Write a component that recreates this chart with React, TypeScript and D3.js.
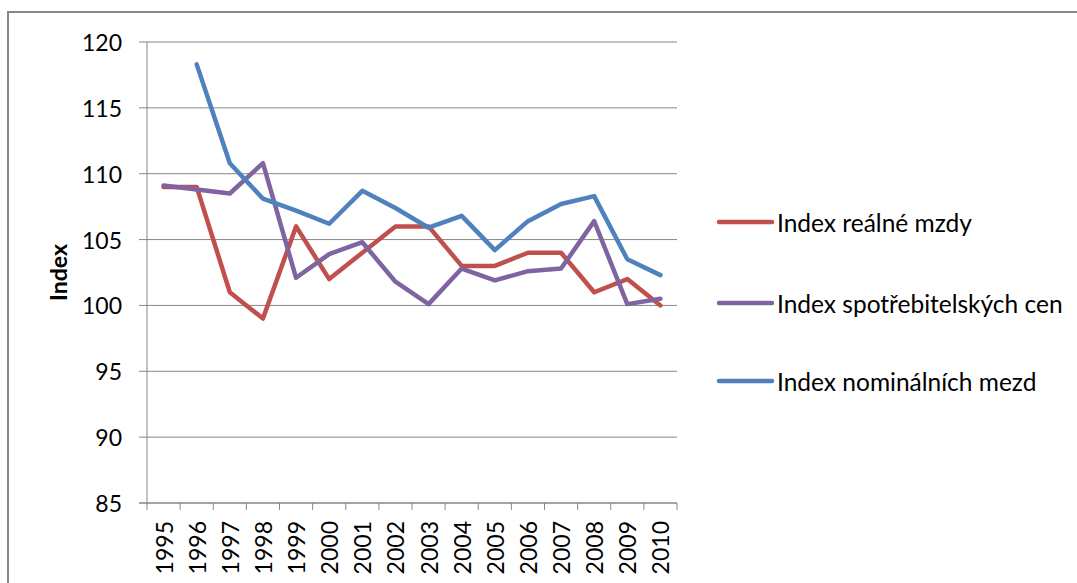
import React from "react";
import * as d3 from "d3";

const years = ["1995","1996","1997","1998","1999","2000","2001","2002","2003","2004","2005","2006","2007","2008","2009","2010"];
const realWages: (number | null)[] = [109, 109, 101, 99, 106, 102, 104, 106, 106, 103, 103, 104, 104, 101, 102, 100];
const cpi: (number | null)[] = [109.1, 108.8, 108.5, 110.8, 102.1, 103.9, 104.8, 101.8, 100.1, 102.8, 101.9, 102.6, 102.8, 106.4, 100.1, 100.5];
const nominalWages: (number | null)[] = [null, 118.3, 110.8, 108.1, 107.2, 106.2, 108.7, 107.4, 105.9, 106.8, 104.2, 106.4, 107.7, 108.3, 103.5, 102.3];
const yTicks = [85, 90, 95, 100, 105, 110, 115, 120];
const seriesNames = ["Index reálné mzdy", "Index spotřebitelských cen", "Index nominálních mezd"];
const seriesColors = ["#C0504D", "#8064A2", "#4F81BD"];
const yTitle = "Index";

const FONT = "Lato, 'Open Sans', sans-serif";

export default function App() {
  const W = 1077, H = 583;
  const left = 147, right = 677, top = 42, bottom = 503;
  const x = d3.scaleBand<string>().domain(years).range([left, right]).padding(0);
  const y = d3.scaleLinear().domain([85, 120]).range([bottom, top]);
  const line = d3.line<number | null>()
    .defined((d) => d !== null)
    .x((_, i) => (x(years[i]) as number) + x.bandwidth() / 2)
    .y((d) => y(d as number));
  const series = [realWages, cpi, nominalWages];
  const legendY = [222, 303, 381];
  const grid = "#868686";

  return (
    <svg width={W} height={H} style={{ position: "fixed", left: 0, top: 0, background: "#fff" }} fontFamily={FONT}>
      <rect x={0} y={0} width={W} height={H} fill="#fff" />
      <rect x={8} y={12} width={W + 20} height={H + 20} fill="none" stroke="#868686" strokeWidth={2} />
      {yTicks.map((t) => (
        <g key={t}>
          <line x1={left - 8} x2={right} y1={y(t)} y2={y(t)} stroke={grid} strokeWidth={t === 85 ? 1.5 : 1} />
          <text x={122} y={y(t)} textAnchor="end" dominantBaseline="central" fontSize={23} fill="#000">{t}</text>
        </g>
      ))}
      <line x1={left} x2={left} y1={top} y2={bottom} stroke={grid} strokeWidth={1} />
      {years.map((yr) => (
        <line key={"t" + yr} x1={x(yr) as number} x2={x(yr) as number} y1={bottom} y2={bottom + 7} stroke={grid} strokeWidth={1} />
      ))}
      <line x1={right} x2={right} y1={bottom} y2={bottom + 7} stroke={grid} strokeWidth={1} />
      {years.map((yr) => {
        const cx = (x(yr) as number) + x.bandwidth() / 2;
        return (
          <text key={yr} transform={`translate(${cx},${521}) rotate(-90)`} textAnchor="end" dominantBaseline="central" fontSize={23} fill="#000">{yr}</text>
        );
      })}
      <text transform={`translate(58,${(top + bottom) / 2}) rotate(-90)`} textAnchor="middle" dominantBaseline="central" fontSize={23} fontWeight="bold" fill="#000">{yTitle}</text>
      {series.map((s, k) => (
        <path key={k} d={line(s) || ""} fill="none" stroke={seriesColors[k]} strokeWidth={4.5} strokeLinejoin="round" strokeLinecap="round" />
      ))}
      {seriesNames.map((n, k) => (
        <g key={n}>
          <line x1={719} x2={772} y1={legendY[k]} y2={legendY[k]} stroke={seriesColors[k]} strokeWidth={4.5} strokeLinecap="round" />
          <text x={777} y={legendY[k]} dominantBaseline="central" fontSize={24.5} fill="#000">{n}</text>
        </g>
      ))}
    </svg>
  );
}
